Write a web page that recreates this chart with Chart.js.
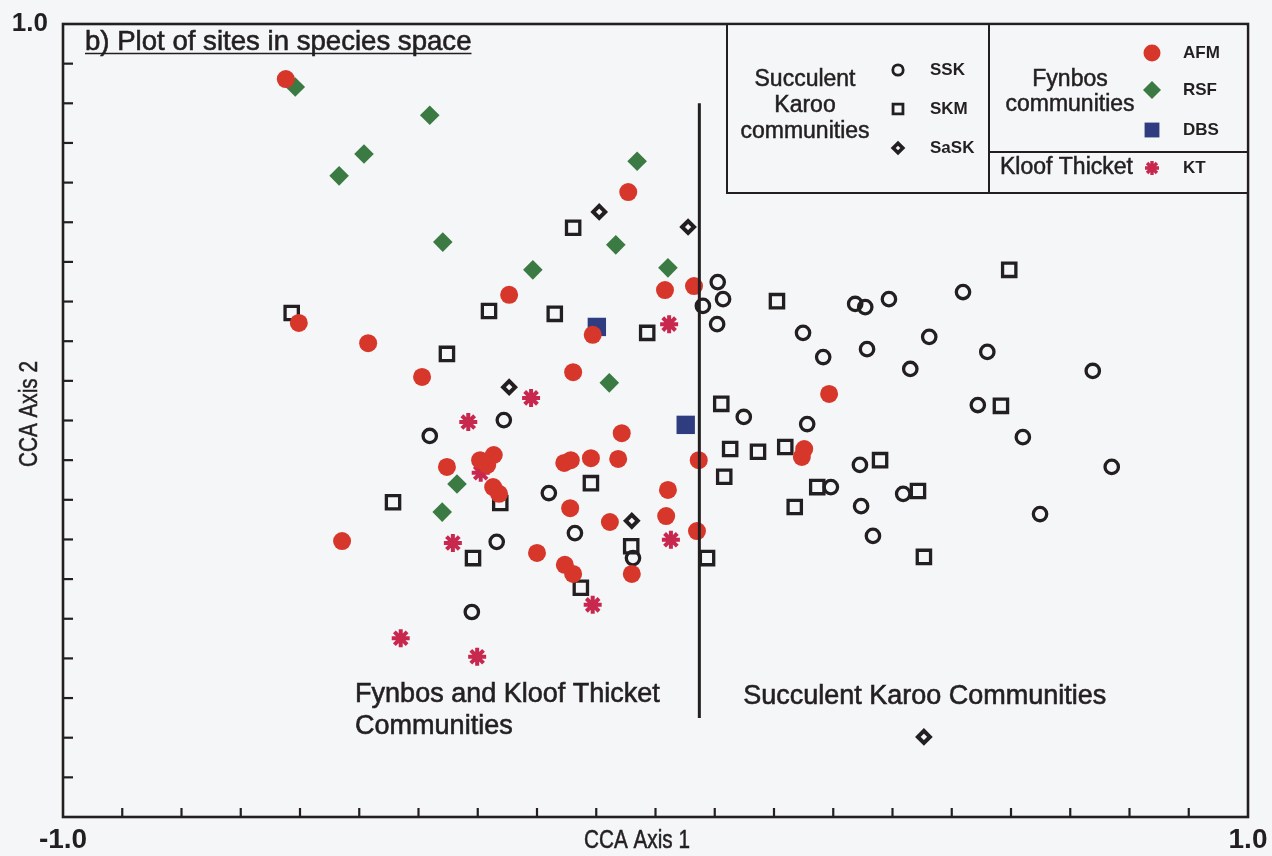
<!DOCTYPE html>
<html>
<head>
<meta charset="utf-8">
<script src="https://cdn.jsdelivr.net/npm/chart.js@4.4.1/dist/chart.umd.min.js"></script>
<style>
html,body{margin:0;padding:0;background:#f5f6f8;}
canvas{display:block;}
</style>
</head>
<body>
<canvas id="c" width="1272" height="856"></canvas>
<script>
// ---------- data ----------
const axisMin = -1.0;
const axisMax = 1.0;
const tickStep = 0.1;
const xTickLabels = ['-1.0', '1.0'];
const yTickLabels = ['1.0'];
const xAxisTitle = 'CCA Axis 1';
const yAxisTitle = 'CCA Axis 2';
const panelTitle = 'b) Plot of sites in species space';

// Fynbos communities
const afm = [[-0.624,0.861],[-0.046,0.576],[0.016,0.329],[0.065,0.339],[-0.247,0.317],[-0.602,0.246],
  [-0.106,0.216],[-0.485,0.195],[-0.139,0.122],[-0.394,0.110],[-0.057,-0.032],[-0.352,-0.117],
  [-0.296,-0.100],[-0.273,-0.087],[-0.284,-0.112],[-0.154,-0.107],[-0.143,-0.100],[-0.109,-0.095],
  [-0.063,-0.097],[0.073,-0.100],[-0.274,-0.168],[-0.264,-0.185],[-0.144,-0.221],[-0.077,-0.256],
  [0.021,-0.175],[0.018,-0.241],[0.070,-0.279],[-0.529,-0.304],[-0.200,-0.334],[-0.153,-0.364],
  [-0.139,-0.387],[-0.040,-0.387],[0.293,0.067],[0.251,-0.072],[0.247,-0.092]];
const rsf = [[-0.608,0.841],[-0.381,0.770],[-0.492,0.672],[-0.534,0.617],[-0.031,0.654],[-0.359,0.450],
  [-0.067,0.443],[-0.207,0.380],[0.021,0.385],[-0.078,0.095],[-0.335,-0.160],[-0.360,-0.231]];
const dbs = [[-0.099,0.236],[0.051,-0.011]];
// Kloof Thicket
const kt = [[0.023,0.243],[-0.210,0.057],[-0.316,-0.004],[-0.295,-0.132],[-0.342,-0.309],[0.026,-0.301],
  [-0.106,-0.465],[-0.430,-0.549],[-0.301,-0.596]];
// Succulent Karoo communities
const ssk = [[-0.256,0.001],[-0.381,-0.039],[-0.180,-0.183],[-0.136,-0.284],[-0.268,-0.306],[-0.038,-0.347],
  [-0.310,-0.483],[0.105,0.349],[0.114,0.306],[0.080,0.289],[0.104,0.243],[0.337,0.294],[0.354,0.286],
  [0.394,0.306],[0.519,0.324],[0.249,0.221],[0.283,0.160],[0.357,0.180],[0.462,0.211],[0.560,0.173],
  [0.430,0.130],[0.738,0.125],[0.149,0.009],[0.256,-0.009],[0.544,0.039],[0.620,-0.042],[0.345,-0.112],
  [0.770,-0.117],[0.296,-0.168],[0.418,-0.185],[0.347,-0.216],[0.649,-0.236],[0.367,-0.291]];
const skm = [[-0.139,0.486],[-0.614,0.271],[-0.281,0.276],[-0.170,0.269],[-0.014,0.221],[-0.352,0.168],
  [-0.443,-0.206],[-0.262,-0.208],[-0.109,-0.158],[-0.308,-0.347],[-0.041,-0.317],[0.087,-0.347],
  [-0.126,-0.422],[0.205,0.301],[0.597,0.380],[0.111,0.042],[0.583,0.037],[0.126,-0.072],[0.173,-0.079],
  [0.219,-0.067],[0.379,-0.100],[0.116,-0.142],[0.273,-0.168],[0.443,-0.178],[0.235,-0.218],[0.453,-0.344]];
const sask = [[-0.095,0.526],[0.055,0.488],[-0.247,0.084],[-0.040,-0.253],[0.453,-0.798]];

// divider between the two community groups
const dividerX = 0.074;
const dividerYs = [0.80, -0.75];
const leftRegionLabel = ['Fynbos and Kloof Thicket', 'Communities'];
const leftRegionAt = [-0.507, -0.692];
const rightRegionLabel = 'Succulent Karoo Communities';
const rightRegionAt = [0.148, -0.697];

// legend texts
const skGroup = ['Succulent', 'Karoo', 'communities'];
const skCodes = ['SSK', 'SKM', 'SaSK'];
const fyGroup = ['Fynbos', 'communities'];
const fyCodes = ['AFM', 'RSF', 'DBS'];
const ktGroup = 'Kloof Thicket';
const ktCode = 'KT';

// ---------- styling ----------
const FONT = '"Liberation Sans", Arial, Helvetica, sans-serif';
const NARROW = '"Liberation Sans Narrow", "Arial Narrow", "Liberation Sans", Arial, sans-serif';
const INK = '#231f20';
const BG = '#f5f6f8';
const RED = '#d7372b';
const GREEN = '#3b7a43';
const NAVY = '#2f3d80';
const CRIMSON = '#c9284e';
const NONE = 'rgba(0,0,0,0)';

const pts = a => a.map(p => ({x: p[0], y: p[1]}));
const near = (a, b) => Math.abs(a - b) < 1e-6;

const styles = {
  AFM:  {pointStyle:'circle',  radius:9,   bg:RED,     bc:RED,     bw:0},
  KT:   {pointStyle:'star',    radius:9,   bg:CRIMSON, bc:CRIMSON, bw:4},
  RSF:  {pointStyle:'rectRot', radius:9.8, bg:GREEN,   bc:GREEN,   bw:0},
  DBS:  {pointStyle:'rect',    radius:13,  bg:NAVY,    bc:NAVY,    bw:0},
  SaSK: {pointStyle:'rectRot', radius:6,   bg:NONE,    bc:INK,     bw:4},
  SKM:  {pointStyle:'rect',    radius:9.4, bg:NONE,    bc:INK,     bw:3.3},
  SSK:  {pointStyle:'circle',  radius:6.7, bg:NONE,    bc:INK,     bw:3.3}
};
function ds(label, arr) {
  const s = styles[label];
  return {label, data: pts(arr), pointStyle: s.pointStyle, pointRadius: s.radius,
    pointHoverRadius: s.radius, backgroundColor: s.bg, borderColor: s.bc, borderWidth: s.bw,
    pointBackgroundColor: s.bg, pointBorderColor: s.bc, pointBorderWidth: s.bw};
}

function drawMarker(ctx, st, x, y, r, bw) {
  ctx.save();
  ctx.fillStyle = st.bg;
  ctx.strokeStyle = st.bc;
  ctx.lineWidth = bw;
  Chart.helpers.drawPoint(ctx, {pointStyle: st.pointStyle, radius: r, borderWidth: bw, rotation: 0}, x, y);
  ctx.restore();
}
// text with a light outline, to match the heavier scanned lettering
function text(ctx, s, x, y, w) {
  ctx.lineWidth = w === undefined ? 0.6 : w;
  ctx.strokeText(s, x, y);
  ctx.fillText(s, x, y);
}
// axis title squeezed to the reference's narrow lettering width
function axisText(ctx, s, x, y, targetWidth, rotate) {
  ctx.save();
  ctx.translate(x, y);
  if (rotate) ctx.rotate(-Math.PI / 2);
  ctx.font = '25px ' + NARROW;
  const w = ctx.measureText(s).width;
  if (w > targetWidth) ctx.scale(targetWidth / w, 1);
  ctx.textAlign = 'center';
  ctx.textBaseline = 'middle';
  text(ctx, s, 0, 0, 0.5);
  ctx.restore();
}

const decor = {
  id: 'decor',
  beforeDraw(chart) {
    const ctx = chart.ctx;
    ctx.save();
    ctx.fillStyle = BG;
    ctx.fillRect(0, 0, chart.width, chart.height);
    ctx.restore();
  },
  afterDraw(chart) {
    const ctx = chart.ctx;
    const {left: L, right: R, top: T, bottom: B} = chart.chartArea;
    const xs = chart.scales.x, ys = chart.scales.y;
    ctx.save();
    ctx.strokeStyle = INK;
    ctx.fillStyle = INK;
    // frame
    ctx.lineWidth = 2.6;
    ctx.strokeRect(L, T, R - L, B - T);
    // inward ticks
    ctx.lineWidth = 2.2;
    xs.ticks.forEach(t => {
      if (near(t.value, axisMin) || near(t.value, axisMax)) return;
      const px = xs.getPixelForValue(t.value);
      ctx.beginPath(); ctx.moveTo(px, B); ctx.lineTo(px, B - 9); ctx.stroke();
    });
    ys.ticks.forEach(t => {
      if (near(t.value, axisMin) || near(t.value, axisMax)) return;
      const py = ys.getPixelForValue(t.value);
      ctx.beginPath(); ctx.moveTo(L, py); ctx.lineTo(L + 10, py); ctx.stroke();
    });
    // axis titles
    axisText(ctx, xAxisTitle, L + 574, B + 24, 106, false);
    axisText(ctx, yAxisTitle, L - 33, T + 390, 106, true);
    // panel title, underlined
    ctx.font = '27.6px ' + FONT;
    ctx.textAlign = 'left';
    ctx.textBaseline = 'middle';
    const tx = L + 22, ty = T + 18;
    text(ctx, panelTitle, tx, ty);
    const tw = ctx.measureText(panelTitle).width;
    ctx.lineWidth = 1.6;
    ctx.beginPath(); ctx.moveTo(tx, T + 29.5); ctx.lineTo(tx + tw, T + 29.5); ctx.stroke();
    // region labels
    ctx.font = '27px ' + FONT;
    const lx = xs.getPixelForValue(leftRegionAt[0]), ly = ys.getPixelForValue(leftRegionAt[1]);
    leftRegionLabel.forEach((s, i) => text(ctx, s, lx, ly + i * 32));
    text(ctx, rightRegionLabel, xs.getPixelForValue(rightRegionAt[0]), ys.getPixelForValue(rightRegionAt[1]));
    // legend box
    ctx.lineWidth = 2;
    const bx = R - 521, by = T + 169, dx = R - 259, hy = T + 128;
    ctx.fillStyle = BG;
    ctx.fillRect(bx, T + 1.5, R - bx - 1.5, by - T - 1.5);
    ctx.fillStyle = INK;
    ctx.beginPath();
    ctx.moveTo(bx, T); ctx.lineTo(bx, by); ctx.lineTo(R, by);
    ctx.moveTo(dx, T); ctx.lineTo(dx, by);
    ctx.moveTo(dx, hy); ctx.lineTo(R, hy);
    ctx.stroke();
    // legend group names
    ctx.font = '23px ' + FONT;
    ctx.textAlign = 'center';
    skGroup.forEach((s, i) => text(ctx, s, R - 443, T + 56 + i * 26, 0.5));
    fyGroup.forEach((s, i) => text(ctx, s, R - 178, T + 56 + i * 25, 0.5));
    ctx.textAlign = 'left';
    text(ctx, ktGroup, R - 248, T + 144, 0.5);
    // legend codes
    ctx.font = 'bold 17px ' + FONT;
    const skY = [T + 46, T + 85, T + 124];
    skCodes.forEach((s, i) => ctx.fillText(s, R - 318, skY[i]));
    const fyY = [T + 29, T + 66, T + 106];
    fyCodes.forEach((s, i) => ctx.fillText(s, R - 65, fyY[i]));
    ctx.fillText(ktCode, R - 65, T + 144);
    // legend markers
    drawMarker(ctx, styles.SSK, R - 350, skY[0], 5.2, 2.8);
    drawMarker(ctx, styles.SKM, R - 350, skY[1], 7, 2.8);
    drawMarker(ctx, styles.SaSK, R - 350, skY[2], 4.8, 3.6);
    drawMarker(ctx, styles.AFM, R - 96, fyY[0], 8.5, 0);
    drawMarker(ctx, styles.RSF, R - 96, fyY[1], 9, 0);
    drawMarker(ctx, styles.DBS, R - 96, fyY[2], 10.5, 0);
    drawMarker(ctx, styles.KT, R - 96, T + 144, 7, 3.4);
    ctx.restore();
  }
};

new Chart(document.getElementById('c'), {
  type: 'scatter',
  data: {
    datasets: [
      {type: 'line', label: 'divider', showLine: true,
       data: [{x: dividerX, y: dividerYs[0]}, {x: dividerX, y: dividerYs[1]}],
       borderColor: INK, borderWidth: 3, pointRadius: 0, fill: false},
      ds('AFM', afm),
      ds('KT', kt),
      ds('RSF', rsf),
      ds('DBS', dbs),
      ds('SaSK', sask),
      ds('SKM', skm),
      ds('SSK', ssk)
    ]
  },
  options: {
    responsive: false,
    animation: false,
    devicePixelRatio: 1,
    layout: {padding: {top: 24, right: 24, bottom: 0, left: 0}},
    plugins: {legend: {display: false}, tooltip: {enabled: false}},
    scales: {
      x: {
        type: 'linear', position: 'bottom', min: axisMin, max: axisMax,
        grid: {display: false, drawTicks: false}, border: {display: false},
        afterFit(s) { s.height = 39; s.paddingLeft = 0; s.paddingRight = 0; },
        ticks: {stepSize: tickStep, autoSkip: false, maxRotation: 0, padding: 6, color: INK,
          font: {family: FONT, size: 28, weight: 'bold', lineHeight: 1.2},
          callback(v) { return near(v, axisMin) ? xTickLabels[0] : (near(v, axisMax) ? xTickLabels[1] : ''); }},
        title: {display: false}
      },
      y: {
        type: 'linear', position: 'left', min: axisMin, max: axisMax,
        grid: {display: false, drawTicks: false}, border: {display: false},
        afterFit(s) { s.width = 63; s.paddingTop = 0; s.paddingBottom = 0; },
        ticks: {stepSize: tickStep, autoSkip: false, padding: 15, color: INK,
          font: {family: FONT, size: 26, weight: 'bold', lineHeight: 1.2},
          callback(v) { return near(v, axisMax) ? yTickLabels[0] : ''; }},
        title: {display: false}
      }
    }
  },
  plugins: [decor]
});
</script>
</body>
</html>
